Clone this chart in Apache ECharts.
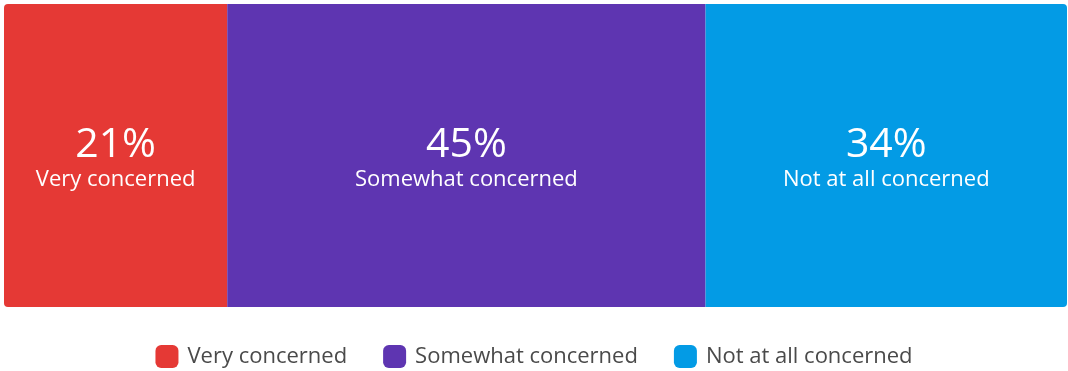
<!DOCTYPE html>
<html>
<head>
<meta charset="utf-8">
<script src="https://cdn.jsdelivr.net/npm/echarts@6/dist/echarts.min.js"></script>
<style>
  html, body { margin: 0; padding: 0; background: #fff; }
  #chart { width: 1068px; height: 371px; }
</style>
</head>
<body>
<div id="chart"></div>
<script>
// Share of respondents by level of concern (percent)
const categories = ['Responses'];
const seriesNames = ['Very concerned', 'Somewhat concerned', 'Not at all concerned'];
const seriesValues = [21, 45, 34];
const seriesColors = ['#E53935', '#5E35B1', '#039BE5'];

const chart = echarts.init(document.getElementById('chart'));
const fontFamily = '"Open Sans", "Noto Sans", sans-serif';

const series = seriesNames.map((name, i) => ({
  name: name,
  type: 'bar',
  stack: 'total',
  barWidth: '100%',
  data: [seriesValues[i]],
  itemStyle: {
    color: seriesColors[i],
    borderRadius: i === 0 ? [4, 0, 0, 4] : (i === seriesNames.length - 1 ? [0, 4, 4, 0] : 0)
  },
  label: {
    show: true,
    position: 'inside',
    offset: [0, 2],
    formatter: (p) => '{v|' + p.value + '%}\n{n|' + p.seriesName + '}',
    rich: {
      v: { fontSize: 41, color: '#fff', fontFamily: fontFamily, lineHeight: 44 },
      n: { fontSize: 22, color: '#fff', fontFamily: fontFamily, lineHeight: 24 }
    }
  },
  emphasis: { disabled: true }
}));

chart.setOption({
  animation: false,
  grid: { left: 4, right: 1, top: 4, bottom: 64 },
  xAxis: { type: 'value', min: 0, max: 100, show: false },
  yAxis: { type: 'category', data: categories, show: false },
  legend: {
    top: 340,
    left: 'center',
    icon: 'roundRect',
    itemWidth: 23,
    itemHeight: 23,
    itemGap: 36,
    textStyle: { fontSize: 22, color: '#4a4a4a', fontFamily: fontFamily, padding: [2, 0, 0, 4] },
    data: seriesNames
  },
  series: series
});
</script>
</body>
</html>
